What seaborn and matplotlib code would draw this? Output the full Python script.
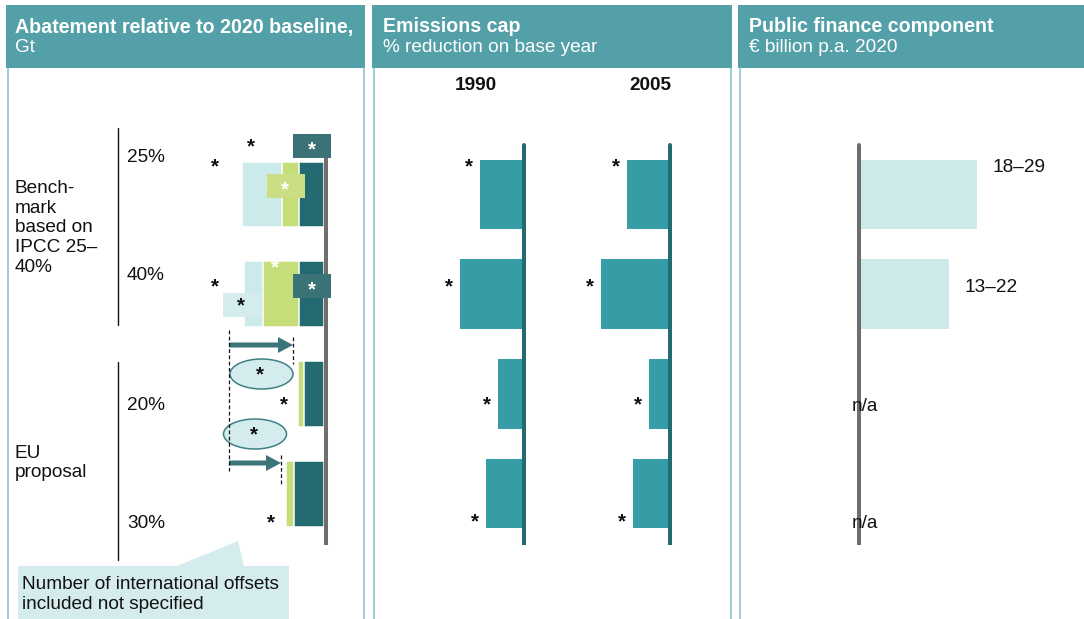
import numpy as np
import pandas as pd
import matplotlib
matplotlib.use("Agg")
import matplotlib.pyplot as plt
import seaborn as sns
from matplotlib.patches import Rectangle, Ellipse, Polygon, FancyArrow
from matplotlib.transforms import offset_copy

# ---------------- data ----------------
scenarios = ["25%", "40%", "20%", "30%"]
group_names = ["Bench-\nmark\nbased on\nIPCC 25–\n40%", "EU\nproposal"]

# abatement relative to 2020 baseline, Gt (stacked)
domestic_gt = [0.50, 0.50, 0.40, 0.60]
offsets_gt = [0.34, 0.72, 0.12, 0.16]
supported_gt = [0.80, 0.38, 0.0, 0.0]

# emissions cap, % reduction on base year
cap_1990 = [26.0, 39.0, 15.0, 22.5]
cap_2005 = [25.5, 42.0, 12.0, 22.0]
cap_years = ["1990", "2005"]

# public finance component, EUR billion p.a. 2020
finance_low = [18, 13, np.nan, np.nan]
finance_high = [29, 22, np.nan, np.nan]

panel_titles = ["Abatement relative to 2020 baseline,", "Emissions cap", "Public finance component"]
panel_units = ["Gt", "% reduction on base year", "€ billion p.a. 2020"]
callout_text = "Number of international offsets\nincluded not specified"

# ---------------- style ----------------
sns.set_style("white")
plt.rcParams["font.family"] = ["Liberation Sans", "DejaVu Sans"]

HEADER = "#54A0A8"
BORDER = "#8DC4C9"
DARK = "#236B70"
DARK_BOX = "#3B7276"
GREEN = "#C5DE7A"
GREEN_BOX = "#CCDE84"
PALE = "#CDEAEA"
PALE_BOX = "#D4ECEE"
CAP = "#369CA6"
GREY = "#6E6E6E"
INK = "#111111"
FS = 13.7

W, H = 1084, 619
fig = plt.figure(figsize=(W / 100, H / 100), dpi=100, facecolor="white")


def px_axes(l, t, r, b):
    return fig.add_axes([l / W, 1 - b / H, (r - l) / W, (b - t) / H])


def canvas_axes():
    ax = px_axes(0, 0, W, H)
    ax.set_xlim(0, W)
    ax.set_ylim(H, 0)
    ax.set_axis_off()
    return ax


STAR_DROP = 9  # the asterisk glyph sits above the baseline


def star(ax, x, y, color=INK, dx=0, transform=None):
    tr = offset_copy(transform or ax.transData, fig=fig, x=dx, y=-STAR_DROP, units="dots")
    ax.text(x, y, "*", transform=tr, ha="center", va="baseline", fontsize=FS + 1,
            fontweight="bold", color=color)


# row geometry shared by the bar panels
ROW0, STEP, AX_TOP, AX_BOT = 194.5, 99.7, 135, 545
YLIM = (3 + (AX_BOT - (ROW0 + 3 * STEP)) / STEP, -(ROW0 - AX_TOP) / STEP)
note_dy = [-0.31, -0.11, 0.08, 0.25]
LINE_TOP = (AX_BOT - 145) / (AX_BOT - AX_TOP)


def value_axes(l, r, zero_px, px_per_unit):
    ax = px_axes(l, AX_TOP, r, AX_BOT)
    ax.set_axis_off()
    return ax, ((l - zero_px) / px_per_unit, (r - zero_px) / px_per_unit)


# ---------------- background: headers, frames, labels ----------------
bg = canvas_axes()
head_l = [6, 372, 738]
head_r = [365, 732, 1084]
title_x = [15, 383, 749]
for l, r, tx, title, unit in zip(head_l, head_r, title_x, panel_titles, panel_units):
    bg.add_patch(Rectangle((l, 5), r - l, 63, fc=HEADER, lw=0))
    bg.text(tx, 27, title, color="white", fontsize=14.1, fontweight="bold", va="center")
    bg.text(tx, 47, unit, color="white", fontsize=FS, va="center")
    bg.plot([l + 1.5, l + 1.5], [68, H], color=BORDER, lw=1.2)
    if r < W:
        bg.plot([r - 1.5, r - 1.5], [68, H], color=BORDER, lw=1.2)

# group brackets and labels
bg.plot([118, 118], [128, 325], color=INK, lw=1.0)
bg.plot([118, 118], [362, 560], color=INK, lw=1.0)
bg.text(15, 228, group_names[0], fontsize=FS, va="center", color=INK, linespacing=1.2)
bg.text(15, 463, group_names[1], fontsize=FS, va="center", color=INK, linespacing=1.2)
label_y = [157, 275, 406, 524]
for s, y in zip(scenarios, label_y):
    bg.text(127, y, s, fontsize=FS, va="center", color=INK)

# year headings
for yr, x in zip(cap_years, [476, 650]):
    bg.text(x, 85, yr, fontsize=FS, fontweight="bold", ha="center", va="center", color=INK)

# ---------------- panel 1: stacked abatement ----------------
ab = pd.DataFrame({
    "scenario": scenarios,
    "domestic": domestic_gt,
    "offsets": offsets_gt,
    "supported": supported_gt,
})
ab["lvl_green"] = ab["domestic"] + ab["offsets"]
ab["lvl_total"] = ab["lvl_green"] + ab["supported"]

ax1, xl1 = value_axes(200, 340, 324, 50)
for col, color in [("lvl_total", PALE), ("lvl_green", GREEN), ("domestic", DARK)]:
    sns.barplot(x=-ab[col], y=ab["scenario"], order=scenarios, orient="h", color=color,
                saturation=1, width=0.66, edgecolor="white", linewidth=1.1,
                errorbar=None, ax=ax1)
ax1.axvline(0.04, color=GREY, lw=2.9, zorder=5)
ax1.set_xlim(*xl1)
ax1.set_ylim(*YLIM)
ax1.set_axis_off()

# ---------------- panel 2: emissions cap ----------------
for vals, (l, r, zero) in zip([cap_1990, cap_2005], [(430, 540, 522), (576, 686, 668)]):
    ax, xl = value_axes(l, r, zero, 1.6)
    sns.barplot(x=[-v for v in vals], y=scenarios, order=scenarios, orient="h", color=CAP,
                saturation=1, width=0.70, linewidth=0, errorbar=None, ax=ax)
    ax.axvline(1.25, ymax=LINE_TOP, color=DARK, lw=2.9, zorder=5)
    for i, v in enumerate(vals):
        star(ax, -v, i + note_dy[i], dx=-11)
    ax.set_xlim(*xl)
    ax.set_ylim(*YLIM)
    ax.set_axis_off()

# ---------------- panel 3: public finance ----------------
fin = pd.DataFrame({"scenario": scenarios, "low": finance_low, "high": finance_high})
ax3, xl3 = value_axes(800, W, 861, 4.0)
known = fin[fin["high"].notna()]
sns.barplot(data=known, x="high", y="scenario", order=scenarios, orient="h", color=PALE,
            saturation=1, width=0.70, linewidth=0, errorbar=None, ax=ax3)
ax3.axvline(-0.5, ymax=LINE_TOP, color=GREY, lw=2.9, zorder=5)
for i, row in fin.iterrows():
    if np.isnan(row["high"]):
        ax3.text(1.0, i + (label_y[i] - (ROW0 + i * STEP)) / STEP, "n/a", fontsize=FS,
                 ha="center", va="center", color=INK, zorder=6)
    else:
        ax3.text(row["high"] + 3.8, i + note_dy[i] + 0.04, f"{int(row['low'])}–{int(row['high'])}",
                 fontsize=FS, ha="left", va="center", color=INK)
ax3.set_xlim(*xl3)
ax3.set_ylim(*YLIM)
ax3.set_axis_off()

# ---------------- overlay: value boxes, offsets notes, callout ----------------
ov = canvas_axes()
ov.add_patch(Rectangle((293, 134), 38, 24, fc=DARK_BOX, lw=0))
star(ov, 312, 146, color="white")
ov.add_patch(Rectangle((267, 174), 38, 24, fc=GREEN_BOX, lw=0))
star(ov, 285, 186, color="white")
ov.add_patch(Rectangle((293, 274), 38, 24, fc=DARK_BOX, lw=0))
star(ov, 312, 286, color="white")
ov.add_patch(Rectangle((223, 293), 38, 24, fc=PALE_BOX, lw=0))
star(ov, 241, 302)
star(ov, 275, 264, color="white")
for x, y in [(251, 143), (215, 163), (215, 283), (284, 401), (271, 519)]:
    star(ov, x, y)

# offset ranges for the EU proposal
for (cx, cy), (sx, sy) in [((261.5, 374), (260, 371)), ((255, 434), (254, 431))]:
    ov.add_patch(Ellipse((cx, cy), 63, 30, fc=PALE_BOX, ec="#3F8085", lw=1.1))
    star(ov, sx, sy)
for x0, x1, y in [(229, 293, 345), (229, 281, 463)]:
    ov.add_patch(FancyArrow(x0, y, x1 - x0, 0, width=5, head_width=16, head_length=15,
                            length_includes_head=True, fc="#3B7479", lw=0))
dash = (0, (3, 2))
ov.plot([229, 229], [330, 471], color=INK, lw=0.9, ls=dash)
ov.plot([293, 293], [337, 364], color=INK, lw=0.9, ls=dash)
ov.plot([281, 281], [455, 484], color=INK, lw=0.9, ls=dash)

# callout
ov.add_patch(Polygon([(18, 566), (177, 566), (238, 541), (244, 566), (289, 566),
                      (289, H), (18, H)], closed=True, fc=PALE_BOX, lw=0))
ov.text(22, 594.5, callout_text, fontsize=FS, va="center", color=INK, linespacing=1.2)

fig.savefig("out.png", dpi=100, facecolor="white")
